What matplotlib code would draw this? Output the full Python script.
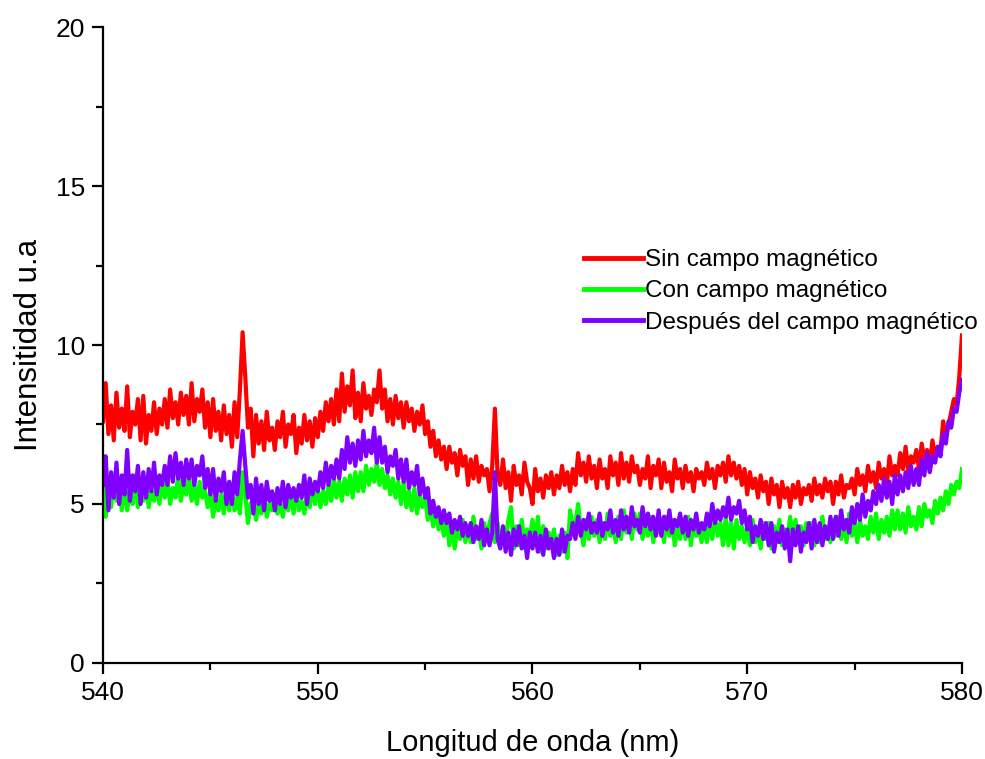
import numpy as np
import matplotlib
matplotlib.use('Agg')
import matplotlib.pyplot as plt
from matplotlib.ticker import MultipleLocator

# intensities, 8 values per nm (one row per nm) from 540 to 580 nm
sin_campo = [
    7.6, 8.8, 7.2, 8.1, 7.0, 8.5, 7.4, 8.0,
    7.3, 8.7, 7.1, 7.9, 7.5, 8.3, 7.0, 8.4,
    6.9, 7.8, 7.3, 8.2, 7.2, 8.0, 7.5, 8.3,
    7.4, 8.6, 7.7, 8.2, 7.5, 8.5, 7.8, 8.4,
    7.5, 8.8, 7.6, 8.3, 7.9, 8.6, 7.4, 8.2,
    7.1, 8.3, 7.3, 7.9, 7.0, 8.1, 7.2, 7.8,
    6.8, 8.2, 7.1, 8.6, 10.4, 9.0, 7.4, 8.0,
    6.5, 7.8, 6.9, 7.6, 6.7, 7.9, 7.0, 7.4,
    6.7, 7.6, 7.1, 7.9, 6.8, 7.5, 7.2, 7.8,
    6.6, 7.4, 6.9, 7.8, 7.0, 7.6, 6.8, 7.7,
    7.1, 7.9, 7.3, 8.2, 7.6, 8.3, 7.5, 8.6,
    7.6, 9.1, 7.9, 8.7, 8.1, 9.2, 7.7, 8.5,
    7.6, 8.8, 8.0, 8.4, 7.8, 8.6, 8.2, 9.2,
    8.0, 8.6, 7.6, 8.3, 7.5, 8.4, 7.7, 8.2,
    7.4, 8.2, 7.6, 8.0, 7.3, 7.9, 7.5, 8.1,
    7.2, 7.6, 6.8, 7.3, 6.5, 7.0, 6.4, 6.8,
    6.1, 6.8, 6.3, 6.6, 5.9, 6.7, 6.2, 6.5,
    5.6, 6.4, 5.8, 6.5, 5.7, 6.2, 5.9, 6.1,
    5.4, 6.2, 8.0, 5.9, 5.6, 6.4, 5.5, 6.0,
    5.1, 6.2, 5.6, 5.9, 5.3, 6.3, 5.7, 5.5,
    5.0, 6.1, 5.4, 5.8, 5.2, 5.9, 5.5, 6.0,
    5.3, 5.9, 5.5, 6.2, 5.6, 6.0, 5.4, 6.1,
    5.6, 6.6, 5.9, 6.3, 5.7, 6.5, 5.8, 6.2,
    5.5, 6.4, 5.8, 6.1, 5.5, 6.5, 5.9, 6.3,
    5.6, 6.6, 5.8, 6.3, 5.7, 6.5, 6.0, 6.2,
    5.6, 6.1, 5.8, 6.5, 5.5, 6.2, 5.9, 6.4,
    5.5, 6.3, 5.7, 6.0, 5.4, 6.4, 5.8, 6.1,
    5.5, 6.2, 5.7, 6.0, 5.4, 6.1, 5.8, 6.0,
    5.6, 6.3, 5.8, 6.1, 5.5, 6.2, 5.9, 6.3,
    5.7, 6.5, 5.9, 6.3, 5.8, 6.2, 5.6, 6.1,
    5.3, 6.0, 5.5, 5.8, 5.2, 5.9, 5.4, 5.7,
    5.0, 5.8, 5.3, 5.6, 4.9, 5.7, 5.2, 5.5,
    4.9, 5.6, 5.2, 5.7, 5.0, 5.5, 5.3, 5.6,
    5.1, 5.8, 5.3, 5.6, 5.2, 5.8, 5.4, 5.7,
    5.0, 5.7, 5.3, 5.9, 5.2, 5.6, 5.5, 5.8,
    5.3, 6.1, 5.6, 5.9, 5.4, 6.2, 5.7, 6.0,
    5.5, 6.3, 5.8, 6.1, 5.6, 6.5, 5.9, 6.2,
    5.9, 6.6, 6.1, 6.8, 6.0, 6.5, 6.3, 6.7,
    6.1, 6.9, 6.4, 6.7, 6.2, 7.0, 6.5, 6.8,
    6.7, 7.6, 7.1, 7.5, 7.9, 8.3, 8.1, 9.0,
    10.3,
]
con_campo = [
    6.5, 4.6, 5.6, 4.9, 5.8, 5.1, 5.5, 4.8,
    5.6, 4.8, 5.4, 5.0, 5.9, 4.9, 5.3, 5.1,
    5.7, 4.9, 5.4, 5.1, 5.6, 5.0, 5.8, 5.2,
    5.8, 5.0, 5.5, 5.2, 5.9, 5.1, 5.6, 5.3,
    5.9, 5.1, 5.6, 5.0, 5.7, 5.2, 5.4, 4.9,
    5.4, 4.6, 5.2, 4.8, 5.3, 4.7, 5.5, 4.8,
    5.5, 4.8, 5.2, 4.7, 6.0, 5.3, 4.4, 5.0,
    5.2, 4.5, 5.1, 4.7, 5.3, 4.6, 5.0, 4.8,
    5.3, 4.7, 5.0, 4.6, 5.2, 4.8, 5.4, 4.7,
    5.4, 4.8, 5.1, 4.7, 5.3, 4.9, 5.5, 5.0,
    5.5, 4.9, 5.4, 5.0, 5.6, 5.1, 5.8, 5.2,
    5.7, 5.1, 5.8, 5.3, 5.9, 5.2, 6.0, 5.4,
    6.0, 5.4, 6.2, 5.6, 6.1, 5.7, 6.3, 5.6,
    6.1, 5.5, 5.9, 5.3, 5.8, 5.2, 5.7, 5.0,
    5.7, 4.9, 5.4, 4.8, 5.5, 4.7, 5.3, 4.9,
    5.2, 4.5, 4.9, 4.3, 4.8, 4.2, 4.6, 4.0,
    4.6, 3.7, 4.4, 3.6, 4.3, 3.9, 4.5, 3.8,
    4.3, 3.8, 4.6, 3.9, 4.2, 3.6, 4.4, 3.9,
    4.4, 4.7, 3.8, 4.4, 3.7, 4.2, 3.9, 4.5,
    4.9, 3.6, 4.3, 3.7, 4.5, 3.8, 4.2, 3.9,
    4.5, 3.9, 4.6, 3.5, 4.3, 3.6, 4.1, 3.7,
    4.2, 3.4, 4.0, 3.5, 4.1, 3.3, 4.8, 4.3,
    4.4, 5.0, 4.2, 3.7, 4.5, 3.9, 4.6, 4.0,
    4.5, 3.8, 4.4, 3.9, 4.7, 4.0, 4.3, 3.8,
    4.6, 3.9, 4.8, 4.1, 4.5, 3.9, 4.7, 4.2,
    4.7, 3.9, 4.5, 4.0, 4.6, 3.8, 4.4, 4.1,
    4.4, 3.8, 4.6, 4.0, 4.5, 3.7, 4.3, 3.9,
    4.5, 3.9, 4.6, 3.7, 4.4, 4.0, 4.2, 3.8,
    4.3, 3.8, 4.5, 3.9, 4.6, 4.0, 4.4, 3.7,
    4.6, 3.7, 4.4, 3.6, 4.5, 3.9, 4.3, 3.8,
    4.3, 3.7, 4.5, 3.8, 4.2, 3.6, 4.4, 3.9,
    4.4, 3.6, 4.3, 3.8, 4.5, 3.7, 4.2, 3.9,
    4.6, 3.9, 4.5, 3.8, 4.3, 3.7, 4.4, 4.0,
    4.4, 3.7, 4.3, 3.8, 4.6, 3.9, 4.2, 3.8,
    4.5, 4.0, 4.6, 3.9, 4.4, 3.8, 4.7, 4.0,
    4.4, 3.8, 4.5, 4.0, 4.3, 3.9, 4.6, 4.1,
    4.7, 3.9, 4.5, 4.1, 4.6, 4.0, 4.8, 4.2,
    4.8, 4.2, 4.7, 4.1, 4.9, 4.3, 4.6, 4.2,
    4.9, 4.3, 5.0, 4.6, 4.8, 4.4, 5.1, 4.7,
    5.2, 4.8, 5.4, 5.0, 5.6, 5.3, 5.7, 5.5,
    6.1,
]
despues_campo = [
    5.6, 6.5, 4.8, 6.0, 5.2, 6.3, 5.0, 5.9,
    5.3, 6.7, 5.1, 5.9, 5.4, 6.2, 5.0, 6.0,
    5.2, 6.1, 5.4, 6.3, 5.3, 5.9, 5.6, 6.2,
    5.6, 6.5, 5.7, 6.6, 5.8, 6.3, 5.6, 6.4,
    5.8, 6.4, 5.6, 6.2, 5.9, 6.5, 5.5, 6.1,
    5.3, 6.1, 5.1, 5.8, 5.4, 6.0, 5.0, 5.7,
    5.0, 6.0, 5.3, 6.4, 7.3, 6.2, 5.2, 5.6,
    4.7, 5.8, 5.0, 5.6, 4.8, 5.7, 5.1, 5.4,
    4.8, 5.5, 5.0, 5.7, 4.9, 5.6, 5.2, 5.5,
    5.1, 5.6, 5.2, 5.9, 5.0, 5.8, 5.3, 5.7,
    5.4, 6.0, 5.5, 6.3, 5.6, 6.2, 5.8, 6.4,
    5.8, 6.7, 6.1, 7.1, 6.3, 6.9, 6.2, 7.0,
    6.4, 7.3, 6.5, 7.0, 6.6, 7.4, 6.3, 7.1,
    6.3, 6.8, 6.0, 6.5, 6.2, 6.7, 5.8, 6.4,
    5.7, 6.4, 5.5, 6.0, 5.6, 6.2, 5.3, 5.8,
    5.2, 5.5, 4.7, 5.1, 4.6, 4.9, 4.4, 4.8,
    4.4, 4.7, 4.1, 4.5, 4.2, 4.6, 4.0, 4.4,
    4.0, 4.4, 3.8, 4.3, 3.9, 4.5, 3.7, 4.2,
    3.7, 4.1, 6.0, 3.9, 3.6, 4.3, 3.5, 4.1,
    3.4, 4.2, 3.7, 4.3, 3.6, 4.0, 3.3, 4.1,
    3.6, 4.1, 3.5, 4.0, 3.4, 4.2, 3.6, 3.9,
    3.3, 3.9, 3.4, 4.2, 3.5, 4.0, 3.9, 4.4,
    3.9, 4.6, 4.0, 4.5, 4.2, 4.7, 4.1, 4.4,
    4.1, 4.7, 4.0, 4.4, 4.2, 4.8, 4.1, 4.5,
    4.0, 4.8, 4.2, 4.6, 4.1, 4.9, 4.3, 4.5,
    4.1, 4.9, 4.3, 4.7, 4.2, 4.6, 4.0, 4.8,
    4.0, 4.6, 4.2, 4.8, 4.1, 4.5, 4.3, 4.7,
    4.1, 4.6, 4.0, 4.5, 4.2, 4.7, 4.1, 4.4,
    4.2, 4.7, 4.3, 5.0, 4.4, 4.8, 4.5, 4.9,
    4.6, 5.2, 4.5, 4.9, 4.7, 5.1, 4.4, 4.8,
    4.2, 4.6, 3.8, 4.3, 4.0, 4.5, 3.9, 4.4,
    3.7, 4.4, 3.5, 4.1, 3.8, 4.3, 3.6, 4.2,
    3.2, 4.2, 3.7, 4.3, 3.5, 4.1, 3.8, 4.4,
    3.6, 4.5, 3.8, 4.4, 3.7, 4.3, 3.9, 4.6,
    3.9, 4.6, 4.0, 4.8, 4.2, 4.5, 4.1, 4.9,
    4.4, 5.0, 4.5, 5.3, 4.6, 5.1, 4.8, 5.4,
    5.0, 5.6, 5.1, 5.8, 5.2, 5.7, 5.0, 5.9,
    5.3, 5.9, 5.4, 6.0, 5.5, 6.2, 5.6, 6.1,
    5.6, 6.4, 5.9, 6.6, 6.0, 6.5, 6.3, 6.8,
    6.5, 7.2, 6.9, 7.6, 7.4, 8.0, 7.9, 8.5,
    8.9,
]

labels = ['Sin campo magnético', 'Con campo magnético', 'Después del campo magnético']
colors = ['#ff0000', '#00ff00', '#7f00ff']

wl = np.linspace(540, 580, len(sin_campo))

plt.rcParams['font.family'] = ['Liberation Sans', 'DejaVu Sans']

fig = plt.figure(figsize=(9.85, 7.59), dpi=100)
ax = fig.add_axes([0.1046, 0.1265, 0.872, 0.8379])

for ys, lab, c in zip([sin_campo, con_campo, despues_campo], labels, colors):
    ax.plot(wl, ys, color=c, lw=3.0, label=lab)

ax.set_xlim(540, 580)
ax.set_ylim(0, 20)
ax.xaxis.set_major_locator(MultipleLocator(10))
ax.xaxis.set_minor_locator(MultipleLocator(5))
ax.yaxis.set_major_locator(MultipleLocator(5))
ax.yaxis.set_minor_locator(MultipleLocator(2.5))

for s in ['top', 'right']:
    ax.spines[s].set_visible(False)
for s in ['left', 'bottom']:
    ax.spines[s].set_linewidth(1.6)

ax.tick_params(which='major', direction='out', length=8, width=1.6, labelsize=19, pad=5)
ax.tick_params(which='minor', direction='out', length=5, width=1.6)

ax.set_xlabel('Longitud de onda (nm)', fontsize=21, labelpad=17)
ax.set_ylabel('Intensitidad u.a', fontsize=22.5, labelpad=8)

leg = ax.legend(loc='upper left', bbox_to_anchor=(0.549, 0.666), frameon=False,
                fontsize=17.5, handlelength=2.4, handletextpad=0.1,
                labelspacing=0.38, borderaxespad=0)
for h in leg.get_lines():
    h.set_linewidth(3.5)

fig.savefig('out.png', dpi=100)
